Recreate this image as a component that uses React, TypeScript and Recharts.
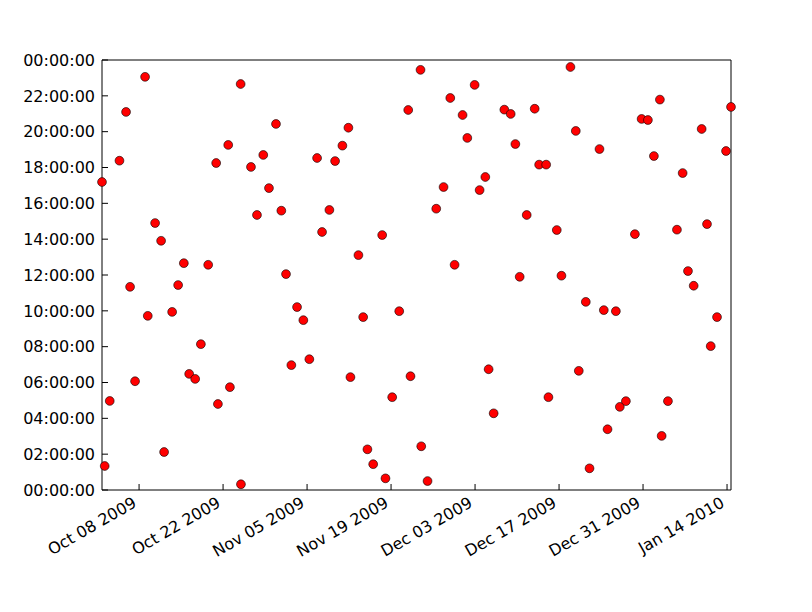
import { ScatterChart, Scatter, XAxis, YAxis } from 'recharts'

// days after Oct 08 2009 (x) and time of day in hours (y)
const dates = [
  -6.18, -5.73, -4.89, -3.27, -2.17, -1.5, -0.67, 1.0, 1.45, 2.67,
  3.67, 4.17, 5.51, 6.51, 7.46, 8.35, 9.35, 10.3, 11.52, 12.85,
  13.14, 14.86, 15.14, 16.93, 16.98, 18.65, 19.65, 20.7, 21.65, 22.82,
  23.71, 24.49, 25.38, 26.33, 27.38, 28.38, 29.67, 30.5, 31.72, 32.67,
  33.89, 34.89, 35.23, 36.56, 37.35, 38.06, 39.02, 40.52, 41.07, 42.19,
  43.36, 44.86, 45.24, 46.91, 47.03, 48.08, 49.53, 50.75, 51.87, 52.59,
  53.92, 54.71, 55.93, 56.76, 57.71, 58.26, 59.1, 60.88, 61.94, 62.72,
  63.44, 64.61, 65.94, 66.68, 67.85, 68.23, 69.62, 70.4, 71.9, 72.79,
  73.29, 74.46, 75.08, 76.74, 77.46, 78.08, 79.47, 80.13, 81.14, 82.64,
  83.76, 84.81, 85.81, 86.81, 87.1, 88.15, 89.65, 90.6, 91.49, 92.44,
  93.77, 94.66, 95.28, 96.33, 97.83, 98.66,
]

const times = [
  17.19, 1.34, 4.97, 18.38, 21.1, 11.34, 6.07, 23.06, 9.72, 14.9,
  13.91, 2.12, 9.94, 11.44, 12.66, 6.48, 6.2, 8.14, 12.57, 18.25,
  4.8, 19.26, 5.74, 22.66, 0.32, 18.03, 15.35, 18.7, 16.85, 20.43,
  15.59, 12.05, 6.97, 10.21, 9.48, 7.3, 18.53, 14.4, 15.63, 18.36,
  19.22, 20.22, 6.3, 13.11, 9.65, 2.27, 1.44, 14.23, 0.65, 5.18,
  9.98, 21.21, 6.35, 23.45, 2.44, 0.5, 15.7, 16.91, 21.88, 12.57,
  20.93, 19.65, 22.61, 16.74, 17.47, 6.74, 4.28, 21.23, 20.99, 19.31,
  11.9, 15.35, 21.28, 18.16, 18.16, 5.18, 14.51, 11.96, 23.61, 20.04,
  6.65, 10.5, 1.21, 19.03, 10.04, 3.39, 9.98, 4.64, 4.96, 14.28,
  20.71, 20.65, 18.64, 21.79, 3.02, 4.96, 14.53, 17.69, 12.22, 11.4,
  20.15, 14.84, 8.03, 9.65, 18.92, 21.38,
]

const xTicks = [0, 14, 28, 42, 56, 70, 84, 98]
const xTickLabels = [
  'Oct 08 2009', 'Oct 22 2009', 'Nov 05 2009', 'Nov 19 2009',
  'Dec 03 2009', 'Dec 17 2009', 'Dec 31 2009', 'Jan 14 2010',
]

const yTicks = [0, 2, 4, 6, 8, 10, 12, 14, 16, 18, 20, 22, 24]
const yTickLabels = [
  '00:00:00', '02:00:00', '04:00:00', '06:00:00', '08:00:00', '10:00:00', '12:00:00',
  '14:00:00', '16:00:00', '18:00:00', '20:00:00', '22:00:00', '00:00:00',
]

const data = dates.map((d, i) => ({ x: d, y: times[i] }))
const xMin = Math.min(...dates)
const xMax = Math.max(...dates)

const FONT = '"DejaVu Sans", sans-serif'
const TICK = -6 // negative -> ticks point into the plot, like matplotlib

function XTick({ x, y, index }: any) {
  return (
    <text
      x={x - 1.5}
      y={y}
      textAnchor="end"
      transform={`rotate(-30, ${x - 1.5}, ${y})`}
      fontFamily={FONT}
      fontSize={16}
      fill="#000"
    >
      {xTickLabels[index]}
    </text>
  )
}

function YTick({ x, y, index }: any) {
  return (
    <text x={x} y={y} dy="0.36em" textAnchor="end" fontFamily={FONT} fontSize={16} fill="#000">
      {yTickLabels[index]}
    </text>
  )
}

function Dot({ cx, cy }: any) {
  return <circle cx={cx} cy={cy} r={4.4} fill="#ff0000" stroke="#000" strokeWidth={0.6} />
}

export default function App() {
  const line = { stroke: '#000', strokeWidth: 1 }
  return (
    <div style={{ width: 812, height: 612, background: '#fff' }}>
      <style>{'body{margin:0}'}</style>
      <ScatterChart width={812} height={612} margin={{ top: 59, right: 80, left: 0, bottom: 42 }}>
        <XAxis
          dataKey="x"
          type="number"
          domain={[xMin, xMax]}
          ticks={xTicks}
          height={80}
          axisLine={line}
          tickLine={line}
          tickSize={TICK}
          tickMargin={22}
          tick={<XTick />}
          interval={0}
        />
        <XAxis
          xAxisId="top"
          orientation="top"
          type="number"
          domain={[xMin, xMax]}
          ticks={xTicks}
          height={1}
          axisLine={line}
          tickLine={line}
          tickSize={TICK}
          tick={false}
          interval={0}
        />
        <YAxis
          dataKey="y"
          type="number"
          domain={[0, 24]}
          ticks={yTicks}
          width={102}
          axisLine={line}
          tickLine={line}
          tickSize={TICK}
          tickMargin={13}
          tick={<YTick />}
          interval={0}
        />
        <YAxis
          yAxisId="right"
          orientation="right"
          type="number"
          domain={[0, 24]}
          ticks={yTicks}
          width={1}
          axisLine={line}
          tickLine={line}
          tickSize={TICK}
          tick={false}
          interval={0}
        />
        <Scatter data={data} shape={<Dot />} isAnimationActive={false} />
      </ScatterChart>
    </div>
  )
}
